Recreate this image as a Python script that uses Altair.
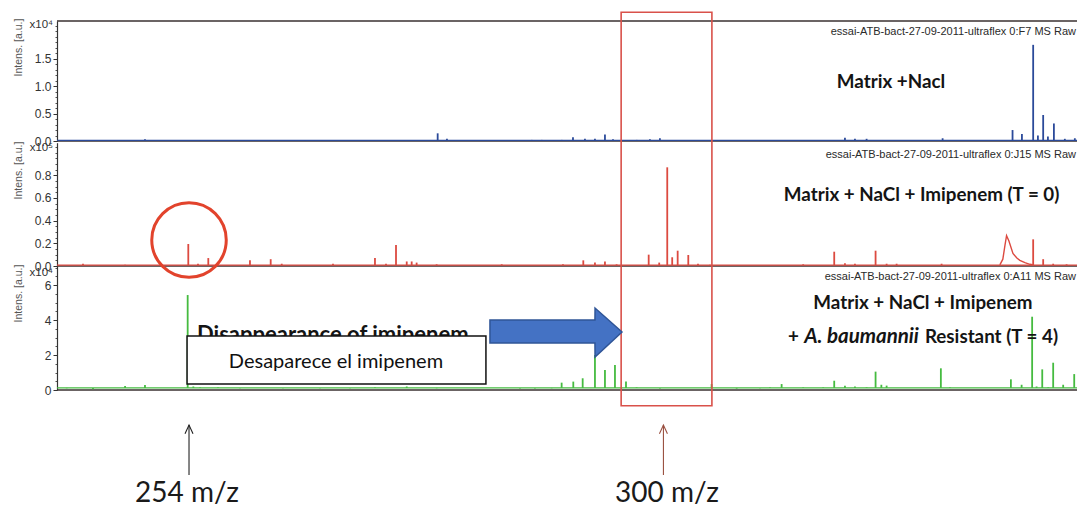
import altair as alt
import pandas as pd

# ---------------- data ----------------
MZ_DOMAIN = [241.2, 340.1]

# Panel 1: Matrix + NaCl (x10^4)
p1_mz = [249.73, 252.35, 255.07, 256.81, 260.40, 261.85, 263.79, 265.25, 266.89,
         278.11, 279.01, 287.22, 288.19, 289.29, 290.13, 291.23, 292.39, 293.36,
         294.33, 295.11, 297.40, 298.69, 299.66, 317.60, 318.57, 319.70, 327.07,
         333.85, 334.76, 335.85, 336.31, 336.82, 337.28, 337.86, 338.92, 339.89]
p1_int = [0.03, 0.015, 0.01, 0.015, 0.01, 0.01, 0.015, 0.01, 0.01,
          0.14, 0.04, 0.02, 0.02, 0.02, 0.02, 0.07, 0.04, 0.04,
          0.12, 0.03, 0.02, 0.03, 0.05, 0.06, 0.04, 0.04, 0.05,
          0.20, 0.13, 1.755, 0.10, 0.475, 0.08, 0.32, 0.04, 0.05]
p1_base = 0.012
p1_top = 2.19
p1_ticks = [0.0, 0.5, 1.0, 1.5]
p1_minor = [0.1, 0.2, 0.3, 0.4, 0.6, 0.7, 0.8, 0.9, 1.1, 1.2, 1.3, 1.4, 1.6, 1.7, 1.8, 1.9, 2.0, 2.1]

# Panel 2: Matrix + NaCl + Imipenem (T = 0) (x10^5)
p2_mz = [243.72, 247.80, 253.93, 254.87, 255.87, 259.91, 261.92, 262.99, 267.96,
         272.03, 273.10, 274.07, 275.11, 275.59, 276.07, 278.01, 284.32, 290.26,
         292.23, 293.36, 294.33, 295.46, 298.57, 299.59, 300.37, 300.85, 301.38,
         302.41, 303.35, 304.51, 313.55, 316.56, 317.60, 318.57, 320.57, 321.64,
         322.61, 326.97, 335.85, 336.82, 337.79, 339.09]
p2_int = [0.02, 0.01, 0.194, 0.02, 0.07, 0.05, 0.06, 0.02, 0.02,
          0.07, 0.02, 0.185, 0.04, 0.04, 0.03, 0.015, 0.015, 0.015,
          0.05, 0.03, 0.04, 0.015, 0.10, 0.03, 0.87, 0.077, 0.135,
          0.097, 0.02, 0.01, 0.015, 0.126, 0.025, 0.02, 0.135, 0.02,
          0.02, 0.02, 0.235, 0.06, 0.02, 0.015]
p2_hump_mz = [332.62, 332.91, 333.11, 333.27, 333.50, 333.89, 334.27, 334.56, 335.05, 335.53, 335.92]
p2_hump_int = [0.01, 0.06, 0.18, 0.267, 0.22, 0.11, 0.07, 0.05, 0.03, 0.015, 0.01]
p2_base = 0.008
p2_top = 1.087
p2_ticks = [0.0, 0.2, 0.4, 0.6, 0.8]
p2_minor = [0.05, 0.1, 0.15, 0.25, 0.3, 0.35, 0.45, 0.5, 0.55, 0.65, 0.7, 0.75, 0.85, 0.9, 0.95, 1.0, 1.05]

# Panel 3: Matrix + NaCl + Imipenem + A. baumannii Resistant (T = 4) (x10^4)
p3_mz = [242.14, 244.69, 247.80, 249.73, 253.87, 254.42, 255.07, 256.81, 258.94,
         263.11, 266.70, 269.61, 272.03, 275.11, 278.01, 286.09, 287.54, 289.16,
         290.13, 291.26, 292.17, 293.36, 294.33, 295.30, 296.37, 297.40, 298.37,
         299.66, 304.67, 307.10, 309.36, 310.33, 311.46, 313.55, 315.49, 316.56,
         317.60, 318.57, 319.70, 320.57, 321.13, 321.64, 326.90, 327.78, 333.69,
         334.73, 335.75, 336.18, 336.73, 337.31, 337.79, 338.76, 339.83]
p3_int = [0.1, 0.05, 0.23, 0.29, 5.43, 0.2, 0.15, 0.15, 0.1,
          0.1, 0.1, 0.1, 0.15, 0.2, 0.1, 0.08, 0.08, 0.1,
          0.42, 0.48, 0.67, 2.0, 1.14, 1.43, 0.48, 0.15, 0.12,
          0.08, 0.34, 0.08, 0.1, 0.15, 0.34, 0.15, 0.15, 0.53,
          0.25, 0.2, 0.15, 1.05, 0.3, 0.25, 1.24, 0.15, 0.61,
          0.3, 4.19, 0.2, 1.18, 0.15, 1.56, 0.3, 0.91]
p3_base = 0.12
p3_top = 7.09
p3_ticks = [0, 2, 4, 6]
p3_minor = [0.5, 1, 1.5, 2.5, 3, 3.5, 4.5, 5, 5.5, 6.5, 7]

header_base = "essai-ATB-bact-27-09-2011-ultraflex "
headers = ["0:F7 MS Raw", "0:J15 MS Raw", "0:A11 MS Raw"]
header_y = [1.998, 0.979, 6.47]
mult_labels = ["x10\u2074", "x10\u2075", "x10\u2074"]
mult_y = [2.12, 1.04, 6.70]

# annotations (m/z, intensity of the panel they sit in)
box300_mz = [295.9, 304.7]
box300_y = [21.6, -0.897]          # panel-3 units
circle_mz = [254.0]
circle_y = [0.229]                 # panel-2 units
arrow_mz = [283.18, 293.36, 293.37, 295.98]
arrow_top = [4.0, 4.0, 4.686, 3.314]
arrow_bot = [2.686, 2.686, 1.886, 3.314]
wbox_mz = [253.81, 282.79]
wbox_y = [3.086, 0.343]
mark_mz = [254.0, 300.0]
mark_lab_mz = [253.8, 300.34]
mark_labels = ["254 m/z", "300 m/z"]
mark_colors = ["#222222", "#9a5040"]

# ---------------- styles ----------------
BLUE = "#2b4a9a"
RED = "#dc4a40"
GREEN = "#45bb40"
FRAME = "#3a3030"
xs = alt.Scale(domain=MZ_DOMAIN, nice=False, zero=False)
s1 = alt.Scale(domain=[0, p1_top], range=[141, 21], nice=False, zero=False)
s2 = alt.Scale(domain=[0, p2_top], range=[266, 142.7], nice=False, zero=False)
s3 = alt.Scale(domain=[0, p3_top], range=[390, 266], nice=False, zero=False)

X = lambda f="mz": alt.X(f + ":Q", scale=xs, axis=None)


def main_axis(values, fmt, title_y):
    return alt.Axis(orient="left", values=values, format=fmt, grid=False,
                    title="Intens. [a.u.]", titleX=-39, titleY=title_y, titleAngle=-90,
                    titleAlign="center", titleBaseline="middle", titleFontSize=10.5,
                    titleFont="Liberation Sans", titleFontWeight="normal", titleColor="#555555",
                    labelFontSize=12, labelFont="Liberation Sans", labelColor="#333333",
                    labelPadding=2, labelFlush=False, tickSize=4, tickColor="#333333",
                    domainColor="#333333", domainWidth=1.2)


def minor_axis(values):
    return alt.Axis(orient="left", values=values, labels=False, grid=False, title="",
                    tickSize=2, tickColor="#555555", domain=False)


def panel(mz, inten, base, top, scale, color, ticks, fmt, title_y, minor, idx):
    layers = []
    n = len(mz)
    df = pd.DataFrame({"mz": mz, "h": inten, "b": [base] * n})
    fr = pd.DataFrame({"v": [0, top] if idx == 0 else [0]})
    layers.append(alt.Chart(fr).mark_rule(color=FRAME, strokeWidth=1.4).encode(
        y=alt.Y("v:Q", scale=scale, axis=minor_axis(minor))))
    layers.append(alt.Chart(pd.DataFrame({"v": [base]})).mark_rule(color=color, strokeWidth=1.1).encode(
        y=alt.Y("v:Q", scale=scale, axis=None)))
    layers.append(alt.Chart(df).mark_rule(color=color, strokeWidth=1.8).encode(
        x=X(), y=alt.Y("h:Q", scale=scale, axis=main_axis(ticks, fmt, title_y)), y2=alt.Y2("b")))
    hd = pd.DataFrame({"mz": [MZ_DOMAIN[1]], "y": [header_y[idx]], "t": [header_base + headers[idx]]})
    layers.append(alt.Chart(hd).mark_text(align="right", baseline="middle", dx=-1, fontSize=11,
                                          font="Liberation Sans", color="#2a2a2a").encode(
        x=X(), y=alt.Y("y:Q", scale=scale, axis=None), text="t:N"))
    ml = pd.DataFrame({"mz": [MZ_DOMAIN[0]], "y": [mult_y[idx]], "t": [mult_labels[idx]]})
    layers.append(alt.Chart(ml).mark_text(align="right", baseline="middle", dx=-4, fontSize=11.5,
                                          font="Liberation Sans", color="#333333").encode(
        x=X(), y=alt.Y("y:Q", scale=scale, axis=None), text="t:N"))
    return layers


L = []
L += panel(p1_mz, p1_int, p1_base, p1_top, s1, BLUE, p1_ticks, ".1f", 47, p1_minor, 0)
L += panel(p2_mz, p2_int, p2_base, p2_top, s2, RED, p2_ticks, ".1f", 170, p2_minor, 1)
L += panel(p3_mz, p3_int, p3_base, p3_top, s3, GREEN, p3_ticks, "d", 293, p3_minor, 2)

L.append(alt.Chart(pd.DataFrame({"mz": p2_hump_mz, "h": p2_hump_int})).mark_line(
    color=RED, strokeWidth=1.4).encode(x=X(), y=alt.Y("h:Q", scale=s2, axis=None)))


def txt(df, scale, **kw):
    return alt.Chart(df).mark_text(**kw).encode(
        x=X(), y=alt.Y("y:Q", scale=scale, axis=None), text="t:N")


BOLD = dict(font="Lato", fontWeight="bold", color="#141414")
L.append(txt(pd.DataFrame({"mz": [322.06], "y": [1.079], "t": ["Matrix +Nacl"]}), s1,
             align="center", baseline="middle", fontSize=18.8, **BOLD))
L.append(txt(pd.DataFrame({"mz": [325.03], "y": [0.626], "t": ["Matrix + NaCl + Imipenem (T = 0)"]}), s2,
             align="center", baseline="middle", fontSize=18.8, **BOLD))
L.append(txt(pd.DataFrame({"mz": [325.16], "y": [4.95], "t": ["Matrix + NaCl + Imipenem"]}), s3,
             align="center", baseline="middle", fontSize=18.8, **BOLD))
L.append(txt(pd.DataFrame({"mz": [312.07], "y": [3.05], "t": ["+"]}), s3,
             align="left", baseline="middle", fontSize=18.8, **BOLD))
L.append(txt(pd.DataFrame({"mz": [324.77], "y": [3.05], "t": ["A. baumannii"]}), s3,
             align="right", baseline="middle", fontSize=20.5, fontStyle="italic", **BOLD))
L.append(txt(pd.DataFrame({"mz": [325.35], "y": [3.05], "t": ["Resistant (T = 4)"]}), s3,
             align="left", baseline="middle", fontSize=18.8, **BOLD))

# red box around 300 m/z
L.append(alt.Chart(pd.DataFrame({"x1": [box300_mz[0]], "x2": [box300_mz[1]],
                                 "y1": [box300_y[0]], "y2": [box300_y[1]]})).mark_rect(
    fillOpacity=0, stroke="#d9514a", strokeWidth=1.6).encode(
    x=alt.X("x1:Q", scale=xs, axis=None), x2="x2", y=alt.Y("y1:Q", scale=s3, axis=None), y2="y2"))

# red circle around 254 m/z in panel 2
L.append(alt.Chart(pd.DataFrame({"mz": circle_mz, "y": circle_y})).mark_point(
    shape="circle", size=5550, filled=False, stroke="#e2432c", strokeWidth=3, opacity=1).encode(
    x=X(), y=alt.Y("y:Q", scale=s2, axis=None)))

# "Disappearance of imipenem" partly hidden by the white box
L.append(txt(pd.DataFrame({"mz": [254.78], "y": [2.75], "t": ["Disappearance of imipenem"]}), s3,
             align="left", baseline="alphabetic", fontSize=22, **BOLD))
L.append(alt.Chart(pd.DataFrame({"x1": [wbox_mz[0]], "x2": [wbox_mz[1]],
                                 "y1": [wbox_y[0]], "y2": [wbox_y[1]]})).mark_rect(
    fill="white", stroke="#111111", strokeWidth=1.5).encode(
    x=alt.X("x1:Q", scale=xs, axis=None), x2="x2", y=alt.Y("y1:Q", scale=s3, axis=None), y2="y2"))
L.append(txt(pd.DataFrame({"mz": [268.25], "y": [1.6], "t": ["Desaparece el imipenem"]}), s3,
             align="center", baseline="middle", fontSize=20, font="Lato", color="#111111"))

# blue block arrow
L.append(alt.Chart(pd.DataFrame({"mz": arrow_mz, "top": arrow_top, "bot": arrow_bot})).mark_area(
    orient="vertical", color="#4472c4", stroke="#2f5597", strokeWidth=1.5, opacity=1).encode(
    x=X(), y=alt.Y("top:Q", scale=s3, axis=None), y2="bot"))

# marker arrows below the spectra
for i in range(2):
    L.append(alt.Chart(pd.DataFrame({"mz": [mark_mz[i]], "y1": [-2.0], "y2": [-4.857]})).mark_rule(
        color=mark_colors[i], strokeWidth=1.1).encode(
        x=X(), y=alt.Y("y1:Q", scale=s3, axis=None), y2="y2"))
    L.append(alt.Chart(pd.DataFrame({"mz": [mark_mz[i]], "y": [-2.0]})).mark_point(
        shape="M -1 2.2 L 0 0 L 1 2.2", size=64, filled=False, stroke=mark_colors[i],
        strokeWidth=1.1, opacity=1).encode(x=X(), y=alt.Y("y:Q", scale=s3, axis=None)))
L.append(txt(pd.DataFrame({"mz": mark_lab_mz, "y": [-5.97, -5.97], "t": mark_labels}), s3,
             align="center", baseline="middle", fontSize=28, font="Lato", color="#1a1a1a"))

chart = alt.layer(*L).resolve_scale(y="independent").properties(
    width=1020, height=508,
    padding={"left": 57, "top": 0, "right": 0, "bottom": 0},
    autosize=alt.AutoSizeParams(type="none"),
).configure_view(stroke=None)

chart.save("out.html", embed_options={"renderer": "svg", "actions": False})
